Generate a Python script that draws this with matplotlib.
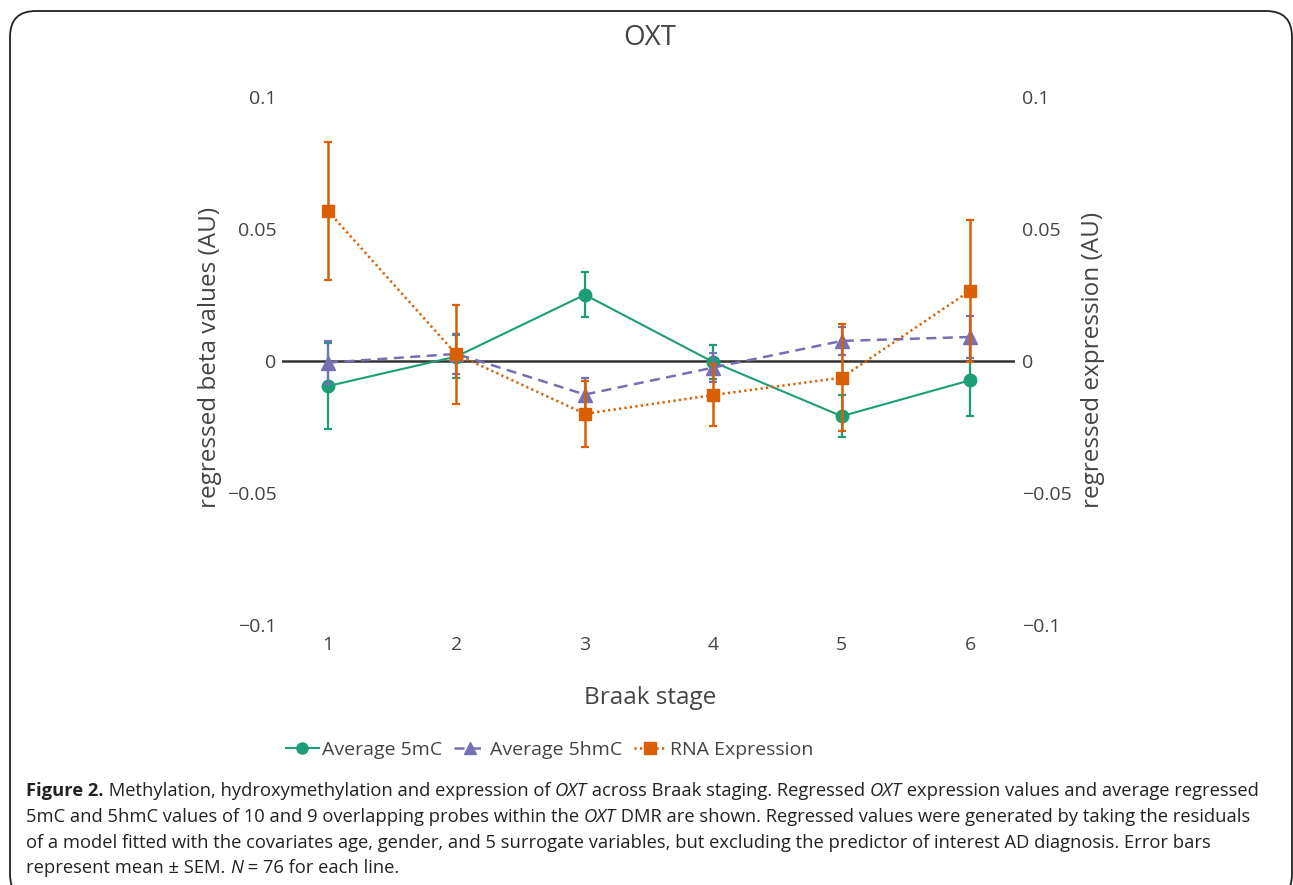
import matplotlib
matplotlib.use("Agg")
import matplotlib.pyplot as plt
from matplotlib.lines import Line2D
from matplotlib.patches import FancyBboxPatch

plt.rcParams['font.family'] = ['Open Sans', 'DejaVu Sans']

# data
stages = [1, 2, 3, 4, 5, 6]
mc5 = [-0.0095, 0.0017, 0.0251, -0.0004, -0.0209, -0.0073]
mc5_err = [0.0162, 0.0081, 0.0086, 0.0065, 0.0080, 0.0136]
hmc5 = [-0.0006, 0.0027, -0.0127, -0.0025, 0.0076, 0.0091]
hmc5_err = [0.0082, 0.0075, 0.0063, 0.0055, 0.0052, 0.0081]
rna = [0.0568, 0.0025, -0.0200, -0.0129, -0.0063, 0.0266]
rna_err = [0.0261, 0.0189, 0.0125, 0.0117, 0.0204, 0.0269]

yticks = [-0.1, -0.05, 0, 0.05, 0.1]
ytick_labels = ['\u22120.1', '\u22120.05', '0', '0.05', '0.1']

W, H = 1293, 885
GREEN, PURPLE, ORANGE = '#1b9e77', '#7570b3', '#d95f02'
TXT = '#444444'


def fx(x):
    return x / W


def fy(y):
    return 1 - y / H


fig = plt.figure(figsize=(W / 100, H / 100), dpi=100)

# rounded frame around the whole figure
frame = FancyBboxPatch((fx(10), fy(900)), fx(1292) - fx(10), fy(11) - fy(900),
                       boxstyle='round,pad=0,rounding_size=0.02',
                       transform=fig.transFigure, fill=False,
                       edgecolor='#222222', linewidth=1.3, mutation_aspect=W / H)
fig.patches.append(frame)

ax = fig.add_axes([fx(282), fy(625), fx(1015) - fx(282), fy(97) - fy(625)])
ax2 = ax.twinx()

for a in (ax, ax2):
    a.set_ylim(-0.1, 0.1)
    a.set_xlim(0.642, 6.35)
    for s in a.spines.values():
        s.set_visible(False)
    a.set_yticks(yticks)
    a.set_yticklabels(ytick_labels)
    a.tick_params(length=0, labelsize=14, labelcolor=TXT)
    a.patch.set_visible(False)

ax.tick_params(axis='y', pad=4)
ax2.tick_params(axis='y', pad=5)
ax.set_xticks(stages)
ax.tick_params(axis='x', pad=8)

ax.axhline(0, color='#333333', lw=1.8, zorder=1)

ax.errorbar(stages, mc5, yerr=mc5_err, color=GREEN, lw=1.5, marker='o', ms=9,
            elinewidth=1.6, capsize=3, capthick=1.6, zorder=3)
ax.errorbar(stages, hmc5, yerr=hmc5_err, color=PURPLE, lw=1.8, ls=(0, (4, 2.6)),
            marker='^', ms=10, elinewidth=1.6, capsize=3, capthick=1.6, zorder=4)
ax2.errorbar(stages, rna, yerr=rna_err, color=ORANGE, lw=1.8, ls=(0, (0.9, 1.3)),
             marker='s', ms=9, elinewidth=1.8, capsize=3, capthick=1.6, zorder=5)

fig.text(fx(650), fy(38), 'OXT', ha='center', va='center', fontsize=20, color=TXT)
fig.text(fx(650), fy(698), 'Braak stage', ha='center', va='center', fontsize=17.5, color=TXT)
fig.text(fx(210), fy(357), 'regressed beta values (AU)', rotation=90,
         ha='center', va='center', fontsize=17.5, color=TXT)
fig.text(fx(1093), fy(360), 'regressed expression (AU)', rotation=90,
         ha='center', va='center', fontsize=17.5, color=TXT)

handles = [
    Line2D([], [], color=GREEN, lw=1.5, marker='o', ms=8),
    Line2D([], [], color=PURPLE, lw=1.8, ls=(0, (4, 2.6)), marker='^', ms=9),
    Line2D([], [], color=ORANGE, lw=1.8, ls=(0, (0.9, 1.3)), marker='s', ms=8),
]
labels = ['Average 5mC', 'Average 5hmC', 'RNA Expression']
leg = fig.legend(handles, labels, loc='center', bbox_to_anchor=(fx(550), fy(750)),
                 ncol=3, frameon=False, fontsize=14, handlelength=1.65,
                 handletextpad=0.2, columnspacing=0.6)
for t in leg.get_texts():
    t.set_color(TXT)

# caption with mixed bold / italic runs
caption = [
    [("Figure 2.", 'bold', 'normal'),
     (" Methylation, hydroxymethylation and expression of ", 'normal', 'normal'),
     ("OXT", 'normal', 'italic'),
     (" across Braak staging. Regressed ", 'normal', 'normal'),
     ("OXT", 'normal', 'italic'),
     (" expression values and average regressed", 'normal', 'normal')],
    [("5mC and 5hmC values of 10 and 9 overlapping probes within the ", 'normal', 'normal'),
     ("OXT", 'normal', 'italic'),
     (" DMR are shown. Regressed values were generated by taking the residuals", 'normal', 'normal')],
    [("of a model fitted with the covariates age, gender, and 5 surrogate variables, "
      "but excluding the predictor of interest AD diagnosis. Error bars", 'normal', 'normal')],
    [("represent mean \u00b1 SEM. ", 'normal', 'normal'),
     ("N", 'normal', 'italic'),
     (" = 76 for each line.", 'normal', 'normal')],
]
line_y = [791, 817, 843, 868]

renderer = fig.canvas.get_renderer()
for runs, y in zip(caption, line_y):
    x = 26
    for txt, weight, style in runs:
        t = fig.text(fx(x), fy(y), txt, ha='left', va='center', fontsize=13.25,
                     fontweight=weight, fontstyle=style, color='#222222')
        bb = t.get_window_extent(renderer=renderer)
        x += bb.width

fig.savefig('out.png', dpi=100)
